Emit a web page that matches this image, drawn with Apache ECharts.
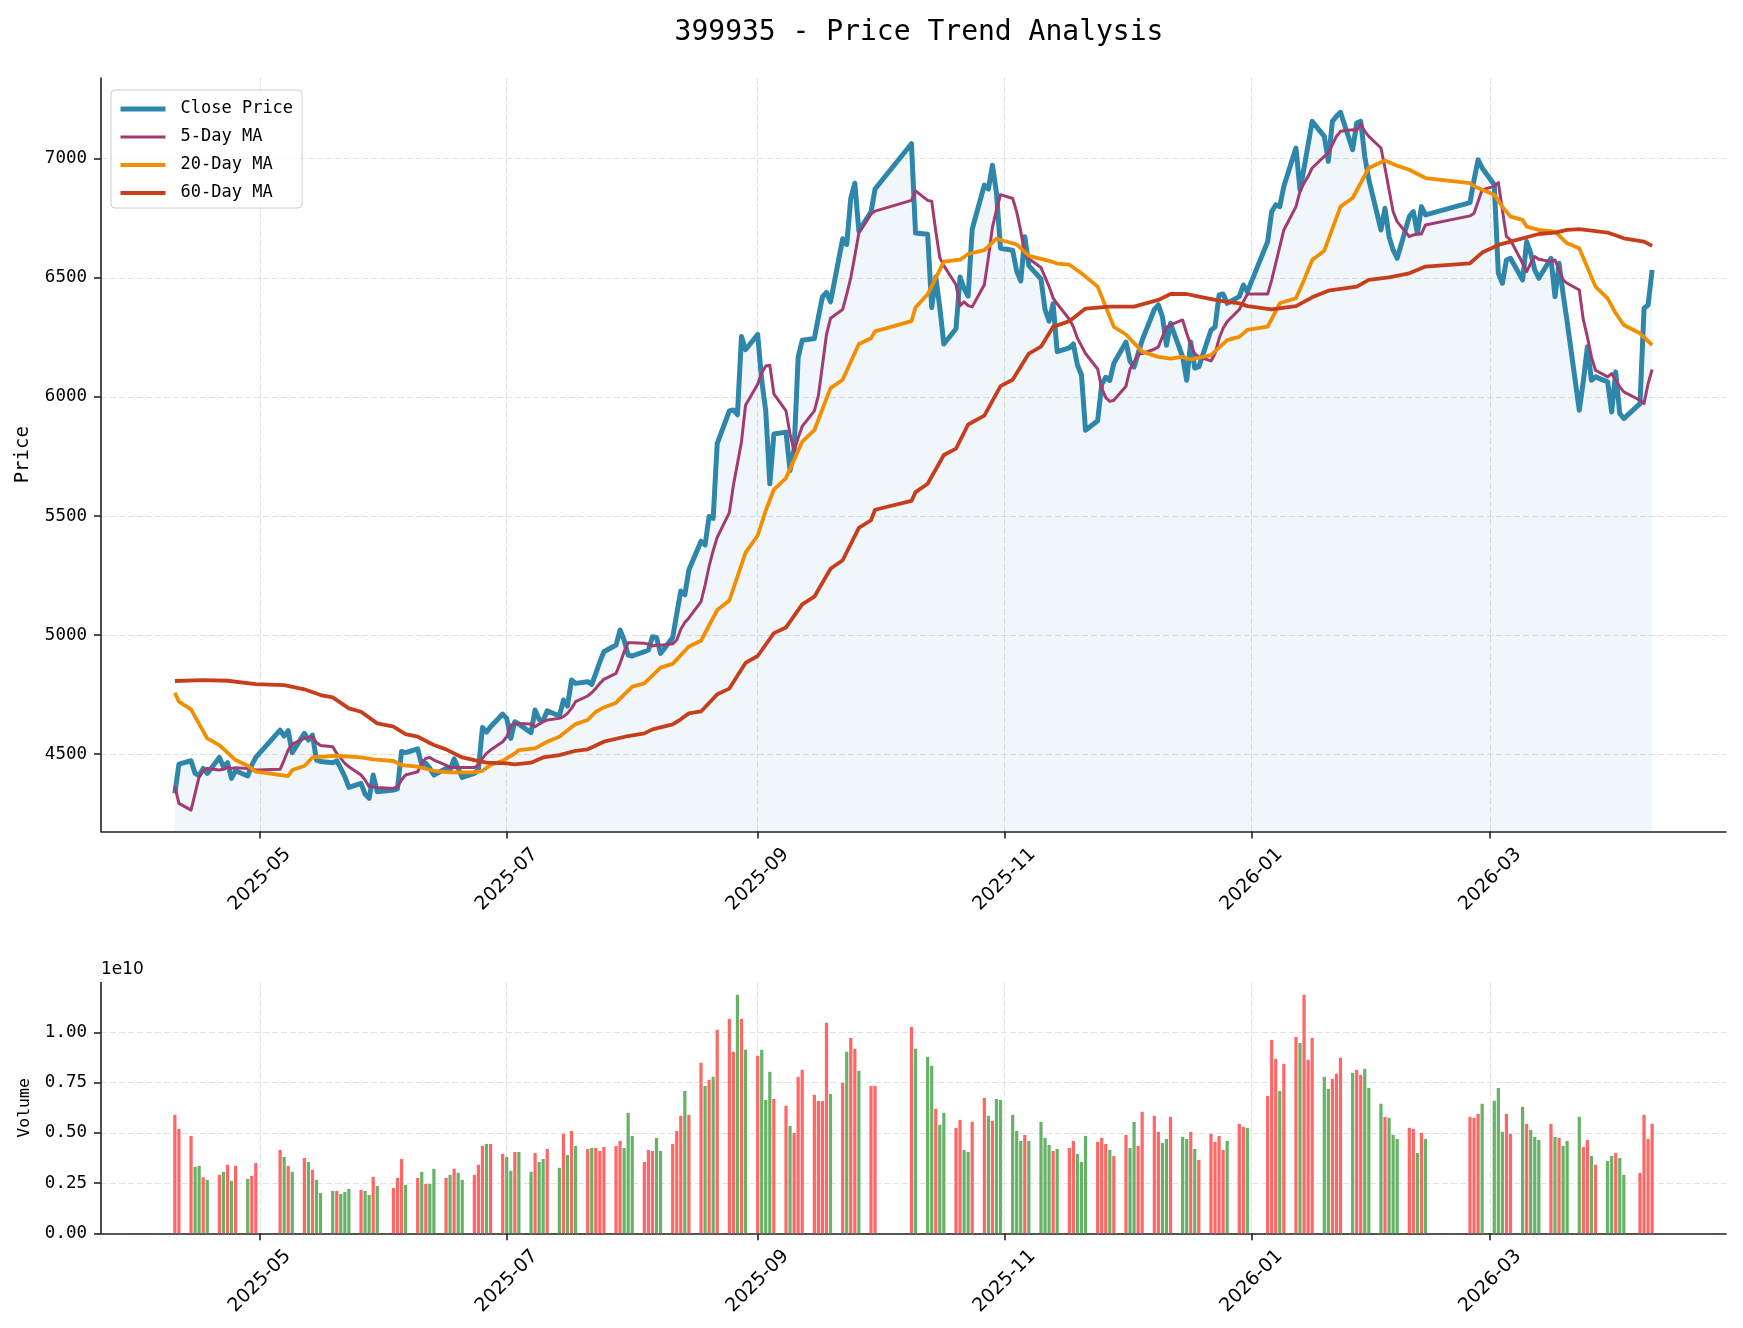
<!DOCTYPE html>
<html>
<head>
<meta charset="utf-8">
<title>399935 - Price Trend Analysis</title>
<script src="https://cdn.jsdelivr.net/npm/echarts@6/dist/echarts.min.js"></script>
<style>
  html, body { margin: 0; padding: 0; background: #fff; }
  #main { width: 1743px; height: 1328px; }
</style>
</head>
<body>
<div id="main"></div>
<script>
// trading days shown in the chart
var tradeDates = [
  '2025-04-10','2025-04-11','2025-04-14','2025-04-15','2025-04-16','2025-04-17','2025-04-18','2025-04-21','2025-04-22','2025-04-23','2025-04-24','2025-04-25','2025-04-28','2025-04-29','2025-04-30',
  '2025-05-06','2025-05-07','2025-05-08','2025-05-09','2025-05-12','2025-05-13','2025-05-14','2025-05-15','2025-05-16','2025-05-19','2025-05-20','2025-05-21','2025-05-22','2025-05-23','2025-05-26','2025-05-27','2025-05-28','2025-05-29','2025-05-30',
  '2025-06-03','2025-06-04','2025-06-05','2025-06-06','2025-06-09','2025-06-10','2025-06-11','2025-06-12','2025-06-13','2025-06-16','2025-06-17','2025-06-18','2025-06-19','2025-06-20','2025-06-23','2025-06-24','2025-06-25','2025-06-26','2025-06-27','2025-06-30',
  '2025-07-01','2025-07-02','2025-07-03','2025-07-04','2025-07-07','2025-07-08','2025-07-09','2025-07-10','2025-07-11','2025-07-14','2025-07-15','2025-07-16','2025-07-17','2025-07-18','2025-07-21','2025-07-22','2025-07-23','2025-07-24','2025-07-25','2025-07-28','2025-07-29','2025-07-30','2025-07-31',
  '2025-08-01','2025-08-04','2025-08-05','2025-08-06','2025-08-07','2025-08-08','2025-08-11','2025-08-12','2025-08-13','2025-08-14','2025-08-15','2025-08-18','2025-08-19','2025-08-20','2025-08-21','2025-08-22','2025-08-25','2025-08-26','2025-08-27','2025-08-28','2025-08-29',
  '2025-09-01','2025-09-02','2025-09-03','2025-09-04','2025-09-05','2025-09-08','2025-09-09','2025-09-10','2025-09-11','2025-09-12','2025-09-15','2025-09-16','2025-09-17','2025-09-18','2025-09-19','2025-09-22','2025-09-23','2025-09-24','2025-09-25','2025-09-26','2025-09-29','2025-09-30',
  '2025-10-09','2025-10-10','2025-10-13','2025-10-14','2025-10-15','2025-10-16','2025-10-17','2025-10-20','2025-10-21','2025-10-22','2025-10-23','2025-10-24','2025-10-27','2025-10-28','2025-10-29','2025-10-30','2025-10-31',
  '2025-11-03','2025-11-04','2025-11-05','2025-11-06','2025-11-07','2025-11-10','2025-11-11','2025-11-12','2025-11-13','2025-11-14','2025-11-17','2025-11-18','2025-11-19','2025-11-20','2025-11-21','2025-11-24','2025-11-25','2025-11-26','2025-11-27','2025-11-28',
  '2025-12-01','2025-12-02','2025-12-03','2025-12-04','2025-12-05','2025-12-08','2025-12-09','2025-12-10','2025-12-11','2025-12-12','2025-12-15','2025-12-16','2025-12-17','2025-12-18','2025-12-19','2025-12-22','2025-12-23','2025-12-24','2025-12-25','2025-12-26','2025-12-29','2025-12-30','2025-12-31',
  '2026-01-05','2026-01-06','2026-01-07','2026-01-08','2026-01-09','2026-01-12','2026-01-13','2026-01-14','2026-01-15','2026-01-16','2026-01-19','2026-01-20','2026-01-21','2026-01-22','2026-01-23','2026-01-26','2026-01-27','2026-01-28','2026-01-29','2026-01-30',
  '2026-02-02','2026-02-03','2026-02-04','2026-02-05','2026-02-06','2026-02-09','2026-02-10','2026-02-11','2026-02-12','2026-02-13','2026-02-24','2026-02-25','2026-02-26','2026-02-27',
  '2026-03-02','2026-03-03','2026-03-04','2026-03-05','2026-03-06','2026-03-09','2026-03-10','2026-03-11','2026-03-12','2026-03-13','2026-03-16','2026-03-17','2026-03-18','2026-03-19','2026-03-20','2026-03-23','2026-03-24','2026-03-25','2026-03-26','2026-03-27','2026-03-30','2026-03-31',
  '2026-04-01','2026-04-02','2026-04-03','2026-04-07','2026-04-08','2026-04-09','2026-04-10'
];

var closePrices = [
  4335,4458,4472,4419,4410,4440,4419,4486,4447,4464,4398,4430,4408,4454,4486,
  4601,4576,4598,4506,4587,4559,4580,4475,4469,4464,4472,4440,4405,4360,4377,4332,4314,4412,4342,
  4349,4354,4511,4506,4522,4454,4461,4440,4412,4440,4433,4480,4440,4402,4419,4436,4612,4592,4615,4668,
  4650,4566,4636,4626,4590,4685,4646,4641,4682,4660,4727,4702,4811,4797,4804,4793,4839,4888,4930,4958,5021,4979,4916,
  4912,4930,4937,4993,4990,4923,4989,5089,5185,5169,5273,5394,5378,5498,5490,5804,5941,5945,5925,6254,6198,
  6262,6069,5940,5635,5844,5852,5691,5780,6166,6238,6245,6334,6420,6439,6399,6664,6640,6833,6897,6696,6777,6873,
  7063,6688,6683,6375,6503,6375,6222,6286,6503,6455,6423,6704,6889,6873,6973,6857,6624,
  6616,6527,6487,6672,6551,6495,6367,6318,6391,6190,6206,6222,6134,6093,5860,5900,6053,6082,6069,6141,
  6230,6150,6125,6182,6238,6367,6386,6337,6217,6309,6168,6070,6231,6121,6127,6280,6294,6428,6432,6393,6421,6470,6442,
  6652,6778,6806,6799,6884,7045,6870,6961,7059,7157,7094,6989,7157,7178,7195,7038,7150,7157,7010,6912,
  6701,6792,6673,6617,6582,6757,6778,6687,6799,6764,6816,6912,6996,6961,
  6891,6519,6477,6575,6582,6491,6652,6603,6533,6498,6582,6421,6561,6432,6316,5944,6066,6210,6070,6084,6063,5937,
  6105,5930,5909,5972,6372,6386,6533
];

var ma5Values = [
  4363,4293,4265,4335,4405,4430,4440,4433,4436,4444,4440,4443,4440,4438,4433,
  4436,4475,4517,4542,4566,4570,4573,4548,4536,4531,4503,4482,4461,4447,4412,4391,4363,4363,4360,
  4356,4363,4391,4412,4426,4461,4482,4486,4475,4454,4444,4444,4444,4444,4444,4454,4482,4503,4517,4552,
  4573,4622,4626,4629,4626,4615,4626,4636,4643,4650,4657,4671,4692,4720,4744,4758,4776,4797,4814,4839,4881,4930,4968,
  4968,4965,4962,4954,4958,4957,4963,4979,5024,5053,5072,5140,5209,5289,5354,5410,5514,5629,5720,5812,5965,
  6053,6101,6130,6133,6013,5941,5844,5772,5828,5876,5941,6005,6133,6262,6330,6367,6431,6500,6592,6688,6768,6780,
  6825,6865,6825,6822,6696,6584,6551,6471,6383,6399,6383,6378,6471,6584,6712,6785,6849,
  6833,6777,6696,6600,6580,6543,6503,6463,6415,6391,6326,6294,6246,6214,6182,6117,6037,5997,5981,5986,
  6045,6117,6146,6178,6182,6200,6210,6252,6292,6302,6323,6267,6217,6182,6168,6151,6182,6245,6288,6316,6367,6400,6432,
  6432,6491,6561,6631,6701,6799,6863,6898,6926,6961,7010,7024,7059,7094,7115,7122,7119,7146,7115,7094,
  7045,6961,6870,6778,6736,6673,6680,6684,6684,6722,6760,6771,6820,6870,
  6884,6900,6785,6673,6659,6561,6526,6561,6589,6578,6568,6575,6533,6491,6477,6449,6323,6252,6168,6112,6084,6098,
  6070,6042,6021,5986,5972,6056,6115
];

var ma20Dates = [
  '2025-04-10','2025-04-11','2025-04-14','2025-04-18','2025-04-21','2025-04-25','2025-04-28','2025-04-30','2025-05-08','2025-05-09',
  '2025-05-12','2025-05-14','2025-05-20','2025-05-26','2025-05-29','2025-06-03','2025-06-05','2025-06-09','2025-06-13','2025-06-17',
  '2025-06-23','2025-06-25','2025-06-27','2025-06-30','2025-07-03','2025-07-04','2025-07-08','2025-07-11','2025-07-14','2025-07-18',
  '2025-07-21','2025-07-23','2025-07-25','2025-07-28','2025-08-01','2025-08-04','2025-08-08','2025-08-11','2025-08-15','2025-08-18',
  '2025-08-22','2025-08-25','2025-08-29','2025-09-01','2025-09-03','2025-09-05','2025-09-08','2025-09-12','2025-09-15','2025-09-19',
  '2025-09-22','2025-09-26','2025-09-29','2025-09-30','2025-10-09','2025-10-10','2025-10-13','2025-10-17','2025-10-21','2025-10-23',
  '2025-10-27','2025-10-30','2025-11-04','2025-11-07','2025-11-12','2025-11-14','2025-11-17','2025-11-20','2025-11-24','2025-11-28',
  '2025-12-01','2025-12-05','2025-12-09','2025-12-12','2025-12-15','2025-12-17','2025-12-22','2025-12-26','2025-12-29','2025-12-31',
  '2026-01-05','2026-01-08','2026-01-12','2026-01-14','2026-01-16','2026-01-19','2026-01-23','2026-01-26','2026-01-30','2026-02-03',
  '2026-02-06','2026-02-09','2026-02-13','2026-02-24','2026-02-25','2026-03-02','2026-03-04','2026-03-06','2026-03-09','2026-03-10',
  '2026-03-13','2026-03-17','2026-03-20','2026-03-23','2026-03-27','2026-03-30','2026-04-01','2026-04-03','2026-04-07','2026-04-10'
];
var ma20Values = [
  4758,4720,4688,4566,4538,4475,4451,4426,4408,4433,
  4450,4486,4493,4486,4478,4471,4454,4447,4430,4423,
  4423,4430,4454,4472,4503,4517,4524,4552,4573,4626,
  4643,4678,4696,4716,4783,4797,4863,4879,4952,4976,
  5105,5145,5346,5418,5523,5611,5659,5812,5860,6037,
  6072,6222,6246,6275,6318,6375,6431,6568,6576,6600,
  6616,6664,6640,6592,6571,6560,6555,6519,6463,6294,
  6262,6190,6168,6161,6168,6157,6175,6238,6252,6281,
  6295,6393,6414,6491,6575,6614,6799,6835,6961,6993,
  6971,6954,6919,6898,6884,6849,6799,6757,6743,6715,
  6701,6694,6645,6624,6463,6414,6351,6302,6267,6217
];

var ma60Dates = [
  '2025-04-10','2025-04-17','2025-04-23','2025-04-30','2025-05-07','2025-05-12','2025-05-16','2025-05-19','2025-05-23','2025-05-26',
  '2025-05-30','2025-06-03','2025-06-06','2025-06-09','2025-06-13','2025-06-16','2025-06-20','2025-06-23','2025-06-26','2025-07-01',
  '2025-07-03','2025-07-07','2025-07-10','2025-07-14','2025-07-18','2025-07-21','2025-07-25','2025-07-31','2025-08-04','2025-08-06',
  '2025-08-11','2025-08-13','2025-08-15','2025-08-18','2025-08-22','2025-08-25','2025-08-29','2025-09-01','2025-09-05','2025-09-08',
  '2025-09-12','2025-09-15','2025-09-19','2025-09-22','2025-09-26','2025-09-29','2025-09-30','2025-10-09','2025-10-10','2025-10-13',
  '2025-10-17','2025-10-20','2025-10-23','2025-10-27','2025-10-31','2025-11-03','2025-11-07','2025-11-10','2025-11-13','2025-11-17',
  '2025-11-21','2025-11-27','2025-12-03','2025-12-09','2025-12-12','2025-12-16','2025-12-19','2025-12-24','2025-12-29','2025-12-31',
  '2026-01-06','2026-01-12','2026-01-16','2026-01-20','2026-01-27','2026-01-30','2026-02-04','2026-02-09','2026-02-13','2026-02-24',
  '2026-02-27','2026-03-03','2026-03-06','2026-03-13','2026-03-17','2026-03-20','2026-03-23','2026-03-26','2026-03-30','2026-04-03',
  '2026-04-08','2026-04-10'
];
var ma60Values = [
  4807,4811,4808,4794,4790,4772,4748,4738,4692,4678,
  4629,4615,4584,4573,4538,4520,4486,4475,4464,4461,
  4457,4464,4486,4496,4514,4520,4552,4576,4587,4604,
  4625,4646,4671,4679,4751,4775,4883,4912,5008,5032,
  5129,5161,5278,5314,5450,5482,5526,5563,5600,5635,
  5756,5783,5884,5921,6045,6072,6182,6211,6294,6318,
  6371,6379,6379,6407,6432,6432,6421,6404,6393,6381,
  6367,6381,6418,6446,6463,6491,6502,6519,6547,6561,
  6606,6638,6652,6684,6690,6701,6704,6698,6690,6666,
  6652,6634
];

// volume in units of 1e10 (as on the axis), 1 = up day (red), 0 = down day (green)
var volumes = [
  0.590,0.520,0.485,0.331,0.336,0.279,0.266,0.291,0.306,0.341,0.261,0.336,0.271,0.286,0.350,
  0.415,0.380,0.336,0.306,0.375,0.355,0.316,0.266,0.201,0.211,0.211,0.196,0.206,0.221,0.216,0.211,0.191,0.281,0.236,
  0.226,0.276,0.370,0.241,0.276,0.306,0.246,0.246,0.321,0.276,0.291,0.321,0.301,0.266,0.291,0.341,0.435,0.445,0.445,0.395,
  0.380,0.311,0.405,0.405,0.306,0.400,0.355,0.370,0.420,0.326,0.495,0.390,0.510,0.435,0.420,0.425,0.425,0.410,0.430,0.435,0.460,0.425,0.600,
  0.485,0.355,0.415,0.410,0.475,0.410,0.445,0.510,0.585,0.709,0.590,0.849,0.734,0.764,0.779,1.013,1.068,0.904,1.188,1.068,0.914,
  0.884,0.914,0.664,0.804,0.669,0.635,0.535,0.500,0.779,0.814,0.689,0.659,0.659,1.048,0.694,0.749,0.904,0.973,0.919,0.809,0.734,0.734,
  1.028,0.919,0.879,0.834,0.620,0.540,0.600,0.525,0.565,0.415,0.405,0.555,0.674,0.585,0.560,0.669,0.664,
  0.590,0.510,0.460,0.490,0.460,0.555,0.475,0.440,0.410,0.420,0.425,0.460,0.395,0.355,0.485,0.455,0.475,0.445,0.415,0.385,
  0.490,0.425,0.555,0.435,0.605,0.585,0.505,0.450,0.470,0.580,0.480,0.470,0.505,0.420,0.365,0.495,0.455,0.485,0.415,0.460,0.545,0.530,0.525,
  0.684,0.963,0.869,0.709,0.844,0.978,0.948,1.188,0.864,0.973,0.779,0.719,0.769,0.794,0.874,0.799,0.814,0.789,0.819,0.724,
  0.645,0.580,0.575,0.490,0.470,0.525,0.520,0.400,0.500,0.470,0.580,0.575,0.595,0.645,
  0.660,0.724,0.505,0.595,0.495,0.630,0.545,0.515,0.480,0.465,0.545,0.480,0.475,0.435,0.460,0.580,0.430,0.465,0.385,0.341,0.360,0.385,
  0.400,0.375,0.291,0.301,0.590,0.470,0.545
];
var volumeUp = [
  1,1,1,0,0,1,0,1,0,1,0,1,0,1,1,
  1,0,1,0,1,0,1,0,0,0,1,0,0,0,1,0,0,1,0,
  1,1,1,0,1,0,1,0,0,1,0,1,0,0,1,1,1,0,1,1,
  0,0,1,0,0,1,0,0,1,0,1,0,1,0,1,0,1,1,1,1,1,0,0,
  0,1,1,1,0,0,1,1,1,0,1,1,0,1,0,1,1,1,0,1,0,
  1,0,0,0,1,1,0,1,1,1,1,1,1,1,0,1,0,1,1,0,1,1,
  1,0,0,0,1,0,0,1,1,0,0,1,1,0,1,0,0,
  0,0,0,1,0,0,0,0,1,0,1,1,0,0,0,1,1,1,0,1,
  1,0,0,1,1,1,1,0,0,1,0,0,1,0,1,1,1,1,1,0,1,1,0,
  1,1,1,0,1,1,0,1,1,1,0,0,1,1,1,0,1,1,0,0,
  0,1,0,0,0,1,1,0,1,0,1,1,1,0,
  0,0,0,1,1,0,1,0,0,0,1,0,1,0,0,0,1,1,0,1,0,0,
  1,0,0,1,1,1,1
];

var monthTicks = ['2025-05-01', '2025-07-01', '2025-09-01', '2025-11-01', '2026-01-01', '2026-03-01'];
var priceTicks = [4500, 5000, 5500, 6000, 6500, 7000];
var volumeTicks = [0, 0.25, 0.5, 0.75, 1.0];

var FONT_MONO = '"DejaVu Sans Mono", monospace';
var AXIS_COLOR = '#222';

var chart = echarts.init(document.getElementById('main'), null, { renderer: 'canvas' });

function toTime(d) {
	return echarts.time.parse(d).getTime();
}

var monthTickValues = monthTicks.map(toTime);
var xMin = new Date(2025, 2, 22, 18).getTime();
var xMax = new Date(2026, 3, 28, 6).getTime();

function pairs(dates, values) {
	var out = [];
	for (var i = 0; i < dates.length; i++) {
		out.push([toTime(dates[i]), values[i]]);
	}
	return out;
}

var volumeData = [];
for (var i = 0; i < tradeDates.length; i++) {
	volumeData.push({
		value: [toTime(tradeDates[i]), volumes[i]],
		itemStyle: { color: volumeUp[i] ? '#ff6666' : '#66b266' }
	});
}

function fmtMonth(v) {
	var d = new Date(v);
	var m = d.getMonth() + 1;
	return d.getFullYear() + '-' + (m < 10 ? '0' : '') + m;
}

var gridLine = { show: true, lineStyle: { color: '#e2e2e2', width: 1, type: [6, 3] } };

// x axes are plain value axes holding timestamps, so the month ticks can be placed exactly
function dateAxis(gridIndex) {
	return {
		type: 'value',
		gridIndex: gridIndex,
		min: xMin,
		max: xMax,
		axisLine: { show: true, onZero: false, lineStyle: { color: AXIS_COLOR, width: 1.6 } },
		axisTick: { show: true, length: 7, customValues: monthTickValues, lineStyle: { color: AXIS_COLOR, width: 1.6 } },
		axisLabel: {
			customValues: monthTickValues,
			formatter: fmtMonth,
			rotate: 45,
			margin: 48,
			align: 'center',
			verticalAlign: 'middle',
			fontFamily: 'DejaVu Sans',
			fontSize: 19,
			color: '#000',
			hideOverlap: false
		},
		splitLine: gridLine
	};
}

function valueAxis(gridIndex, min, max, ticks, name, nameSize, fmt) {
	return {
		type: 'value',
		gridIndex: gridIndex,
		min: min,
		max: max,
		name: name,
		nameLocation: 'middle',
		nameRotate: 90,
		nameGap: 68,
		nameTextStyle: { fontFamily: FONT_MONO, fontSize: nameSize, color: '#000' },
		axisLine: { show: true, lineStyle: { color: AXIS_COLOR, width: 1.6 } },
		axisTick: { show: true, length: 7, customValues: ticks, lineStyle: { color: AXIS_COLOR, width: 1.6 } },
		axisLabel: {
			customValues: ticks,
			formatter: fmt,
			margin: 14,
			fontFamily: FONT_MONO,
			fontSize: 17.5,
			color: '#000'
		},
		splitLine: gridLine
	};
}

var option = {
	animation: false,
	backgroundColor: '#fff',
	title: {
		text: '399935 - Price Trend Analysis',
		left: 914,
		top: 14,
		textAlign: 'center',
		textStyle: { fontFamily: FONT_MONO, fontSize: 28, fontWeight: 'normal', color: '#000' }
	},
	legend: {
		orient: 'vertical',
		left: 111,
		top: 90,
		padding: [9, 9, 5, 7],
		itemWidth: 45,
		itemHeight: 14,
		itemGap: 8,
		backgroundColor: 'rgba(255,255,255,0.8)',
		borderColor: '#cccccc',
		borderWidth: 1,
		borderRadius: 4,
		itemStyle: { color: 'rgba(0,0,0,0)', borderWidth: 0 },
		lineStyle: { width: 'inherit' },
		textStyle: { fontFamily: FONT_MONO, fontSize: 17, color: '#000', lineHeight: 20, padding: [0, 0, 0, 10] },
		data: ['Close Price', '5-Day MA', '20-Day MA', '60-Day MA']
	},
	graphic: [{
		type: 'text',
		left: 101,
		top: 961,
		style: { text: '1e10', font: '17px "DejaVu Sans"', fill: '#000' }
	}],
	grid: [
		{ left: 101, top: 78, width: 1625, height: 753.5, containLabel: false },
		{ left: 101, top: 982.5, width: 1625, height: 250.8, containLabel: false }
	],
	xAxis: [dateAxis(0), dateAxis(1)],
	yAxis: [
		valueAxis(0, 4175, 7339, priceTicks, 'Price', 19, function (v) { return String(v); }),
		valueAxis(1, 0, 1.249, volumeTicks, 'Volume', 16.5, function (v) { return v.toFixed(2); })
	],
	series: [
		{
			name: 'Close Price',
			type: 'line',
			xAxisIndex: 0,
			yAxisIndex: 0,
			data: pairs(tradeDates, closePrices),
			symbol: 'none',
			lineStyle: { color: '#2e86ab', width: 5, join: 'round' },
			itemStyle: { color: '#2e86ab' },
			areaStyle: { color: 'rgba(46,134,171,0.1)', origin: 'start' }
		},
		{
			name: '5-Day MA',
			type: 'line',
			xAxisIndex: 0,
			yAxisIndex: 0,
			data: pairs(tradeDates, ma5Values),
			symbol: 'none',
			lineStyle: { color: '#a23b72', width: 3, join: 'round' },
			itemStyle: { color: '#a23b72' }
		},
		{
			name: '20-Day MA',
			type: 'line',
			xAxisIndex: 0,
			yAxisIndex: 0,
			data: pairs(ma20Dates, ma20Values),
			symbol: 'none',
			lineStyle: { color: '#f18f01', width: 3.8, join: 'round' },
			itemStyle: { color: '#f18f01' }
		},
		{
			name: '60-Day MA',
			type: 'line',
			xAxisIndex: 0,
			yAxisIndex: 0,
			data: pairs(ma60Dates, ma60Values),
			symbol: 'none',
			lineStyle: { color: '#c73e1d', width: 3.8, join: 'round' },
			itemStyle: { color: '#c73e1d' }
		},
		{
			name: 'Volume',
			type: 'bar',
			xAxisIndex: 1,
			yAxisIndex: 1,
			barWidth: 3.2,
			data: volumeData
		}
	]
};

chart.setOption(option);
</script>
</body>
</html>
